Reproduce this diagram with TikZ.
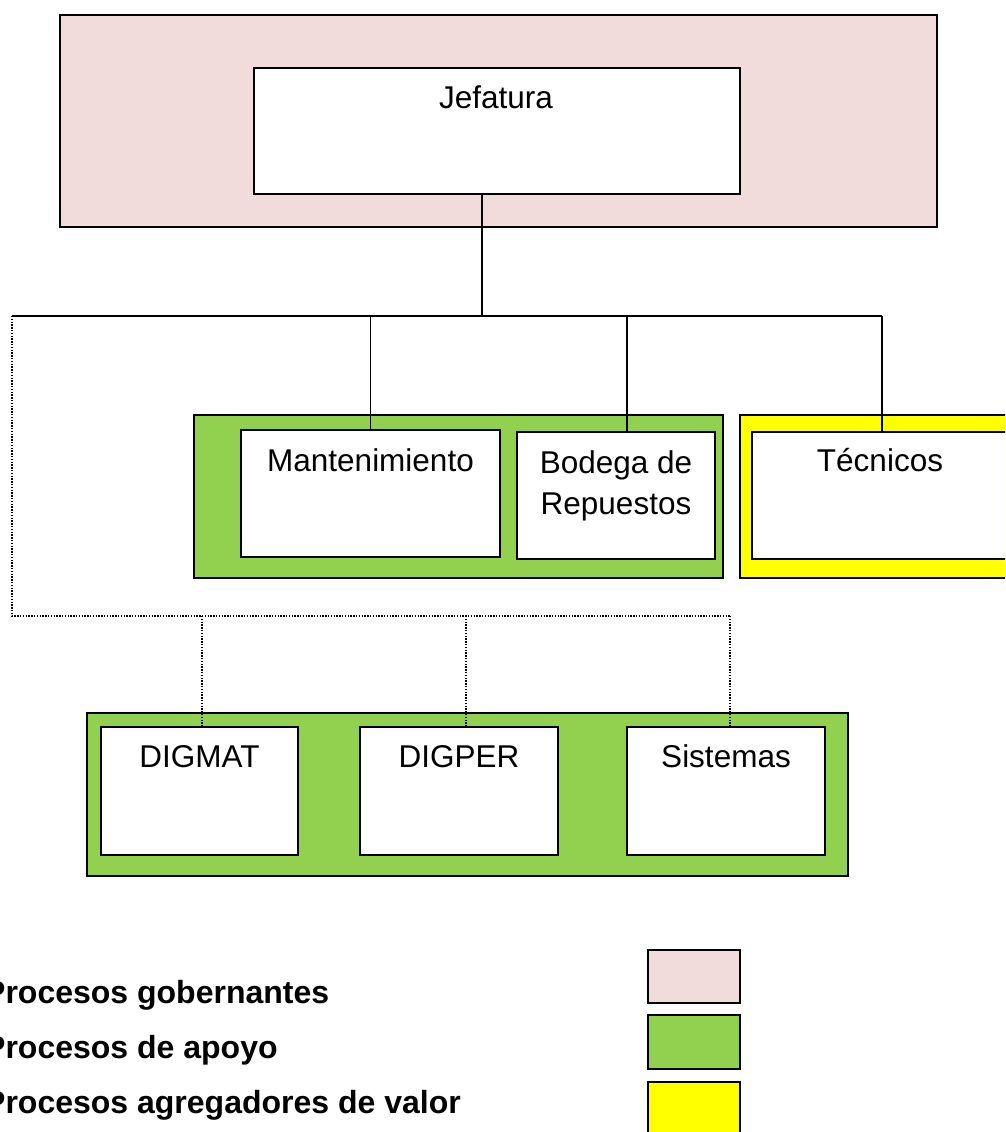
\documentclass[tikz,border=0pt]{standalone}
\usepackage{fontspec}
\setmainfont{Liberation Sans}
\begin{document}
\begin{tikzpicture}[x=1pt, y=-1pt,
  panel/.style={draw=black, line width=1.6pt, anchor=north west, inner sep=0pt, outer sep=0pt},
  unit/.style={panel, fill=white, line width=1.8pt},
  lbl/.style={anchor=base, inner sep=0pt, font=\fontsize{31.5pt}{38pt}\selectfont},
  legend/.style={anchor=base west, inner sep=0pt, font=\fontsize{32pt}{38pt}\selectfont\bfseries},
  swatch/.style={panel, line width=2pt, minimum width=92pt, minimum height=53pt},
  conn/.style={draw=black, line width=1.5pt},
  dotconn/.style={draw=black, line width=1.4pt, dash pattern=on 1.4pt off 1.4pt}
]
\definecolor{govpink}{HTML}{F2DCDB}
\definecolor{supgreen}{HTML}{92D050}
\definecolor{valyellow}{HTML}{FFFF00}
\clip (0,0) rectangle (1005,1132);
\fill[white] (0,0) rectangle (1005,1132);

% governing level
\node[panel, fill=govpink, minimum width=877pt, minimum height=212pt] (gov) at (60,15) {};
\node[unit, minimum width=486pt, minimum height=126pt] (jef) at (254,68) {};
\node[lbl] (jefT) at (496,108) {Jefatura};

% support group (upper)
\node[panel, fill=supgreen, minimum width=529pt, minimum height=163pt] (sup1) at (194,415) {};
\node[unit, minimum width=259pt, minimum height=127pt] (mant) at (241,430) {};
\node[lbl] (mantT) at (370.5,471) {Mantenimiento};
\node[unit, minimum width=198pt, minimum height=127pt] (bod) at (517,432) {};
\node[lbl] (bodT1) at (616,473) {Bodega de};
\node[lbl] (bodT2) at (616,514) {Repuestos};

% value-adding group
\node[panel, fill=valyellow, minimum width=290pt, minimum height=163pt] (val) at (740,415) {};
\node[unit, minimum width=260pt, minimum height=127pt] (tec) at (752,432) {};
\node[lbl] (tecT) at (880,471) {Técnicos};

% support group (lower)
\node[panel, fill=supgreen, minimum width=761pt, minimum height=163pt] (sup2) at (87,713) {};
\node[unit, minimum width=197pt, minimum height=128pt] (dgm) at (101,727) {};
\node[lbl] (dgmT) at (199.5,767) {DIGMAT};
\node[unit, minimum width=198pt, minimum height=128pt] (dgp) at (360,727) {};
\node[lbl] (dgpT) at (459,767) {DIGPER};
\node[unit, minimum width=198pt, minimum height=128pt] (sis) at (627,727) {};
\node[lbl] (sisT) at (726,767) {Sistemas};

% solid reporting lines
\coordinate (busL) at (12,316);
\coordinate (busR) at (882,316);
\coordinate (tJ) at (482,316);
\coordinate (tB) at (627,316);
\draw[conn] (tJ |- jef.south) -- (tJ);
\draw[conn] (busL) -- (busR);
\draw[conn] (mant.north |- busL) -- (mant.north);
\draw[conn] (tB) -- (tB |- bod.north);
\draw[conn] (busR) -- (tec.north);

% dotted coordination lines
\coordinate (dotL) at (12,616);
\coordinate (d1) at (202,616);
\coordinate (d2) at (466,616);
\coordinate (d3) at (730,616);
\draw[dotconn] (busL) -- (dotL) -- (d3);
\draw[dotconn] (d1) -- (d1 |- dgm.north);
\draw[dotconn] (d2) -- (d2 |- dgp.north);
\draw[dotconn] (d3) -- (d3 |- sis.north);

% legend
\node[legend] (lg1) at (-16,1003) {Procesos gobernantes};
\node[legend] (lg2) at (-16,1058) {Procesos de apoyo};
\node[legend] (lg3) at (-16,1113) {Procesos agregadores de valor};
\node[swatch, fill=govpink] (sw1) at (648,950) {};
\node[swatch, fill=supgreen, minimum height=54pt] (sw2) at (648,1015) {};
\node[swatch, fill=valyellow, minimum height=60pt] (sw3) at (648,1082) {};
\end{tikzpicture}
\end{document}
